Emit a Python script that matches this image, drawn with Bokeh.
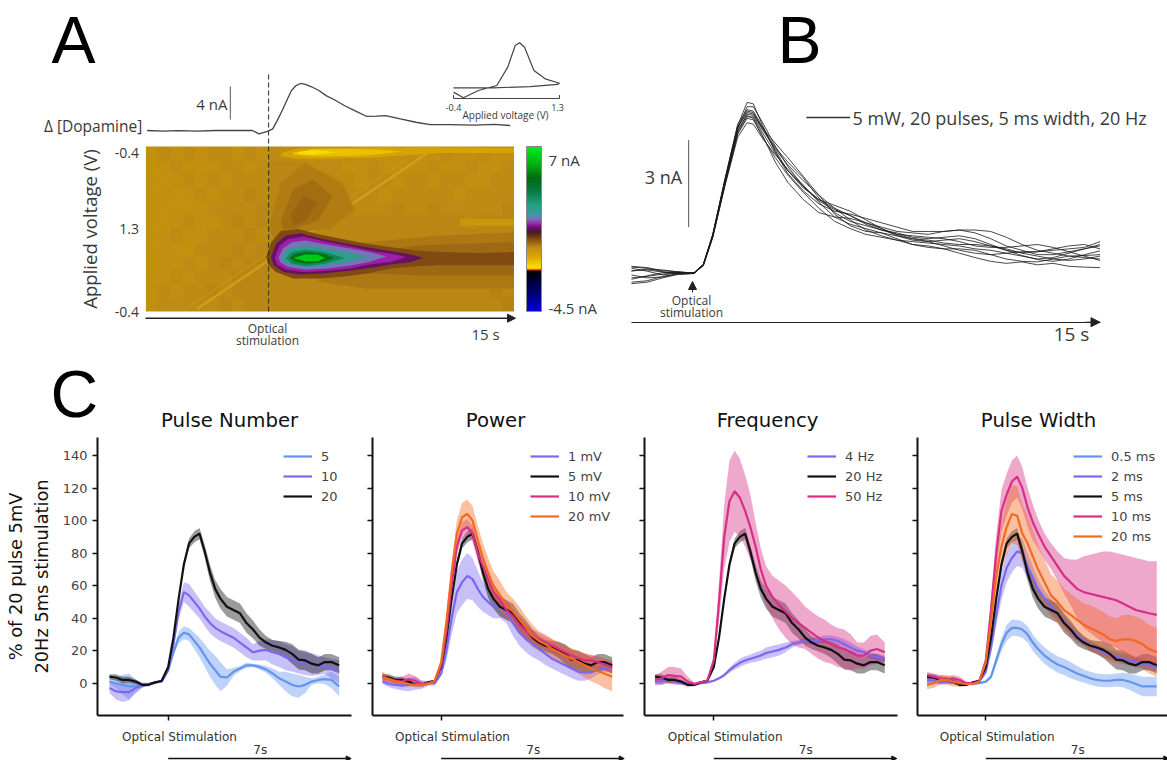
import numpy as np
from bokeh.plotting import figure
from bokeh.layouts import row, column
from bokeh.models import (Range1d, Label, Arrow, NormalHead, Legend, LegendItem, FixedTicker,
                          LinearColorMapper, ColorBar, ColumnDataSource)
from bokeh.embed import file_html
from bokeh.resources import INLINE

# ---------- panel A data ----------
DA_T = [0.05,0.7,1.33,2.1,2.83,3.6,4.34,4.61,4.95,5.17,5.35,5.55,5.75,5.92,6.1,6.3,6.5,6.75,7.05,7.36,7.7,8.1,8.55,9.0,9.4,9.77,10.37,11.0,11.58,12.4,13.39,14.2,14.85]
DA_NA = [0,-0.08,-0.02,-0.08,0,0.02,0,-0.4,-0.1,0.2,1.2,2.4,3.7,4.8,5.4,5.7,5.6,5.3,4.85,4.2,3.7,3.0,2.35,1.7,1.75,1.8,1.4,1.0,0.7,0.72,0.66,0.75,0.6]
CV_V = [-0.4,-0.24,0.0,0.295,0.47,0.59,0.66,0.74,0.89,1.07,1.3,1.27,0.83,0.235,-0.4]
CV_I = [4.65,3.96,4.85,5.45,7.68,10.3,10.63,10.1,7.27,6.26,5.73,5.58,5.33,5.17,5.17]
HEAT = [
 [-.1,-.05,-.1,-.05,-.1,-.05,-.05,-.1,-.05,-.1,-.05,-.05,-.05,-.1,-.1,-.1,-.05,-.1,-.1,-.15,-.1,-.05,-.1,-.1,-.05,-.1,-.1,-.05,-.1,-.1],
 [-.15,-.1,-.05,-.1,-.15,-.1,-.05,-.05,-.1,-.05,0,.02,.02,-.02,-.05,-.05,-.1,-.1,-.05,-.1,-.15,-.1,-.1,-.05,-.1,-.1,-.05,-.1,-.1,-.05],
 [-.1,-.15,-.1,-.05,-.1,-.05,-.1,-.05,-.05,-.02,.02,.02,.02,.02,0,-.05,-.05,-.1,-.05,-.05,-.1,-.05,-.05,-.1,-.05,-.05,-.1,-.1,-.05,-.05],
 [-.1,-.1,-.15,-.1,-.05,-.1,-.05,-.05,0,-.02,.02,.02,.02,0,0,-.02,-.05,-.05,-.05,-.1,-.05,-.02,-.05,-.05,-.05,-.1,-.05,-.05,-.05,-.05],
 [-.15,-.1,-.1,-.15,-.1,-.05,-.05,-.05,-.05,0,.02,.02,.02,.02,0,0,0,-.02,-.05,-.05,0,-.05,-.05,0,-.02,-.05,-.05,-.02,-.05,0],
 [-.1,-.15,-.1,-.05,-.1,-.1,-.05,0,-.05,0,.02,.02,.02,.02,.02,0,0,0,0,.02,0,0,.02,0,0,0,-.02,0,0,.02],
 [-.15,-.1,-.05,-.1,-.1,-.05,-.05,-.05,0,-.02,0,.02,.02,.02,.02,.02,0,.02,0,0,.02,.02,0,0,.02,0,.02,0,.02,0],
 [-.1,-.1,-.1,-.15,-.05,-.05,-.05,0,-.05,0,0,.02,.02,.02,.02,.02,.02,.02,.02,0,.02,.02,.02,.02,0,.02,.02,.02,.02,.05],
 [-.15,-.1,-.1,-.05,-.1,-.05,0,-.05,0,0,0,.02,.02,.02,.02,.02,.02,.02,0,.02,.02,.02,.02,.02,.02,.02,.02,.05,.05,.05],
 [-.1,-.1,-.05,-.1,-.05,-.05,-.05,0,0,0,0,0,.02,.02,.02,.02,.02,.02,.02,.02,.02,.02,0,.02,.02,.02,.02,.02,.02,.05],
 [-.1,-.05,-.1,-.05,-.05,0,-.05,0,0,0,0,0,.02,0,.02,.02,0,.02,.02,0,.02,0,.02,.02,0,.02,.02,.02,.05,.02],
 [-.1,-.05,-.05,-.05,-.05,-.05,0,-.02,0,0,0,0,0,0,0,0,.02,0,0,0,.02,0,0,0,0,0,0,.02,.02,.05],
]
CONTOUR_V = [.16,.28,-.32,.12,.22,.32,-.55,-1,-1.4, .55,1.3,1.6,2.0,2.7,3.5,4.9,6.2]
CONTOUR_T = [
 [7,9,12,15,15,12,9,7],
 [8,11,15,15,11,8],
 [12.8,15,15,12.8],
 [5,5.5,6.5,8,8.5,7.5,6,5.2],
 [5.5,6,6.8,7.6,7,6,5.6],
 [5.9,6.4,7,6.5,6],
 [5.5,6.2,9,12,15,15,12,9,6.2,5.5],
 [6,7,9,10.5,9,7,6],
 [6.2,6.8,7.8,6.8,6.2],
 [4.9,5.1,5.5,6.2,7,8,9,10,11,12,13.5,15,15,13.5,12,11,10,9,8,7,6,5.3,5],
 [5.1,5.3,5.7,6.3,7.2,8.2,9.2,10,10.8,11.3,10.8,10,9.2,8.2,7.2,6.3,5.6,5.2],
 [5.25,5.45,5.8,6.4,7.3,8.3,9.1,10,10.6,10,9.1,8.3,7.3,6.4,5.7,5.35],
 [5.4,5.6,5.95,6.5,7.4,8.4,9.1,9.8,9.1,8.4,7.4,6.5,5.8,5.5],
 [5.55,5.75,6.1,6.6,7.5,8.3,9,8.3,7.5,6.6,6,5.65],
 [5.7,5.95,6.5,7.3,8.1,7.3,6.5,5.95],
 [5.85,6.1,6.6,7.2,7.7,7.2,6.6,6.1],
 [6,6.5,7,7.3,7,6.5],
]
CONTOUR_F = [
 [.36,.42,.46,.48,.14,.14,.14,.18],
 [.33,.40,.42,.22,.22,.24],
 [.56,.56,.52,.52],
 [.5,.78,.9,.78,.62,.5,.48,.45],
 [.55,.74,.8,.7,.55,.5,.5],
 [.58,.7,.66,.55,.52],
 [.96,.99,.995,.995,.99,.96,.96,.93,.925,.94],
 [.965,.985,.985,.97,.945,.94,.95],
 [.965,.98,.965,.95,.955],
 [.33,.42,.49,.50,.47,.44,.41,.39,.37,.36,.355,.36,.28,.28,.28,.275,.26,.23,.21,.20,.20,.24,.28],
 [.33,.41,.46,.475,.44,.41,.385,.365,.345,.325,.30,.285,.265,.245,.23,.225,.24,.28],
 [.325,.40,.44,.455,.425,.395,.37,.35,.33,.30,.285,.26,.245,.24,.255,.285],
 [.325,.385,.42,.43,.405,.38,.36,.335,.30,.28,.26,.255,.27,.295],
 [.325,.37,.39,.395,.375,.355,.335,.305,.285,.27,.28,.30],
 [.325,.36,.375,.36,.325,.29,.275,.29],
 [.325,.35,.36,.35,.325,.30,.29,.30],
 [.325,.345,.345,.325,.305,.305],
]
STREAK_T = [2.08,11.73]
STREAK_F = [.016,.986]

# ---------- panel B data (nA) ----------
B_T = [0,.5,1,1.5,2,2.3,2.6,3,3.4,3.7,3.9,4.2,4.6,5,5.5,6,6.5,7,7.5,8,8.5,9,9.5,10,10.5,11,11.5,12,12.5,13,13.5,14,14.5,15]
B1 = [.25,.2,.1,.05,0,.3,1.3,3.2,5,5.75,5.75,5.2,4.4,3.7,3,2.5,2.2,2,1.75,1.6,1.45,1.4,1.35,1.45,1.5,1.4,1.2,.95,.8,.65,.65,.75,.85,1]
B2 = [-.3,-.25,-.1,0,.02,.3,1.25,3.1,4.8,5.35,5.3,4.7,4,3.4,2.8,2.25,1.8,1.55,1.35,1.25,1.15,1,.95,.85,.7,.55,.42,.35,.4,.3,.35,.25,.22,.2]
B3 = [.1,.12,.05,.02,.03,.32,1.35,3.3,5.1,5.9,5.85,5.1,4.2,3.45,2.85,2.4,2.15,2.05,1.9,1.75,1.6,1.45,1.45,1.45,1.5,1.5,1.45,1.25,1,.8,.7,.6,.55,.5]
B4 = [-.15,-.1,-.02,.04,.01,.28,1.28,3.15,4.9,5.5,5.45,4.95,4.3,3.75,3.2,2.7,2.25,1.85,1.5,1.3,1.15,1.1,1.05,1,.95,.85,.8,.7,.6,.5,.55,.7,.85,.95]
B5 = [.18,.08,-.05,.02,.02,.3,1.3,3.25,5.05,5.6,5.55,5,4.5,4,3.35,2.7,2.05,1.65,1.45,1.4,1.3,1.2,1.15,1.05,1,1,.95,.85,.7,.6,.5,.45,.5,.6]
B6 = [-.05,-.15,-.12,-.03,0,.29,1.32,3.2,4.95,5.45,5.35,4.75,3.85,3.15,2.55,2.1,1.95,1.9,1.75,1.55,1.35,1.2,1.1,.95,.8,.7,.65,.7,.75,.75,.8,.85,.9,1.1]
B7 = [.08,.15,.12,.06,.01,.31,1.33,3.28,5.15,5.65,5.6,5.05,4.25,3.55,2.95,2.55,2.35,2.15,1.85,1.55,1.3,1.15,1.1,1.15,1.2,1.1,.95,.8,.72,.75,.85,.95,1,.85]
B8 = [-.2,-.08,.03,.05,.02,.27,1.24,3.05,4.7,5.2,5.15,4.65,4.1,3.6,3.05,2.45,1.95,1.7,1.55,1.4,1.2,1,.9,.85,.85,.8,.65,.5,.42,.4,.5,.6,.62,.65]
B9 = [.22,.18,.06,-.02,.0,.3,1.31,3.22,5.02,5.55,5.5,5,4.35,3.85,3.3,2.6,2.1,1.8,1.65,1.5,1.4,1.25,1.2,1.25,1.3,1.2,1,.8,.62,.48,.42,.5,.65,.78]
B10 = [-.35,-.3,-.15,-.02,.01,.28,1.27,3.12,4.85,5.4,5.4,4.85,4.15,3.55,3,2.55,2.25,2,1.7,1.5,1.35,1.3,1.25,1.2,1.1,.95,.9,.9,.95,1,.9,.75,.6,.45]

# ---------- panel C data (%) ----------
T = [-2.25,-2,-1.75,-1.5,-1.25,-1,-.75,-.5,-.25,0,.2,.4,.6,.8,1,1.2,1.4,1.6,1.8,2,2.25,2.5,2.75,3,3.25,3.5,3.75,4,4.25,4.5,4.75,5,5.25,5.5,5.75,6,6.25,6.55]
BLACK = [4,3.5,2,2,1,-1,-1,.5,1.5,10,28,52,73,86,90,92,81,68,58,52,47,45,43,37,33,28,25,23,22,20.5,18,14.5,14,12,11,13,13,11]
BLACK_E = [1.5,2,2,2,1.5,1,.8,.5,.5,1,1.5,2,2.5,3,3.5,3.5,4,5,5.5,6,6,6,6,6,5.5,5,4,3.5,4,5,6,6,6,6,5,5,5,5]
P10 = [-3,-5,-5.5,-5.5,-3,-1.5,-.5,.5,1,8,24,44,56,54,50,46,41,37,34,32,30,28,25,22,19,20,20.5,19,18,16,15,13,12,11.5,11,11,9,7]
P10_E = [3,5,6,5,3,1.5,.8,.5,.5,1,3,4.5,6,7,6.5,6,6,6.5,6,6,6,6,6,6,5,6,6.5,7.5,8,8,8,7,7,7,6,5,6,7]
P5 = [1,0,-1,-2,-2,-1,-.5,.5,1,8,19,28,31,30,26,22,17,12,8,4,3.5,7,9,11,11,10,8.5,6,3,1,-1,-2,-1,1,2,2.5,2,-2]
P5_E = [2,3,6,8,4,1.5,.8,.5,.5,1,2,3.5,4,4,5,6,7,8,9,9,5,2.5,1.5,1.5,1,1.5,2,3,4,6,7,7,5,2,2,3,5,6]
M1 = [1,-.5,-1,-1.5,-1,0,-1,0,0,6,20,40,56,62,66,64,58,53,50,47,47,44,37,31,27,24,21,18,15,13,11,9,7,6.5,7,8,9,10]
M1_E = [1.5,2,2.5,3,4,4,2.5,1.5,1.5,1.5,6,10,13,14,14,13,11,9,8,7,7,7,8,8,8,8,7,7,6,6,6,6,5.5,5,4,2.5,2,3]
M10 = [4,2.5,1.5,1,2.5,1.5,-.5,0,1,11,32,60,84,94,96,92,80,72,64,56,51,45,41,36,32,29,27,25,23,21,19,17,15.5,14,14,13,11.5,10]
M10_E = [3,2,2,3,3.5,3,2,1,.8,1,3,4,5,5,5,5,5,5,5,5,4.5,4.5,4.5,4.5,4.5,4,4,4,4,4,4,4,4,4,3.5,3.5,3.5,4]
M20 = [4,2.5,1,.5,-.5,-1,-1,-.5,1.5,13,38,68,92,102,104,100,88,77,68,60,54,48,44,39,34,29,26,24,21,19,17,15,13,11,9,7.5,6,4]
M20_E = [2.5,2,1.5,1.5,1.5,1.5,1,.8,.8,1.5,4,6,8,9,9,9,9,9,9,9,9,8,8,8,7,7,6,6,6,6,6,6.5,7,7.5,8,8,9,9]
F4 = [1,1,2,1,0,-.5,-1,0,.5,1.5,3,5,8,10.5,12.5,14,15,16,17,18.5,19.5,20.5,22,24,25,26,26,26.5,27,27,26,24,22,20,19,17,16,15]
F4_E = [2,2,1.5,1,.8,.5,.5,.5,.5,.5,.8,1,1.5,2,2.5,2.5,2.5,3,3,3.5,3.5,3.5,3,2,1.5,1.5,2,2,2.5,2.5,2.5,3,3,2.5,2,2,2,2]
F50 = [2,3,5,4.5,4,1,-.5,.5,1.5,14,50,90,112,118,114,106,96,84,70,60,53,48,44,40,37,34,31,28,26,24,22,21,19,17,17,20,21,19]
F50_E = [3,4,5,5.5,5,3,1,.8,.8,3,12,20,25,25,24,22,20,15,13,12,13,15,16,16,15,13,13,13,13,12,12,12,11,8,8,9,9,6]
W05 = [1,1.5,1,2,1,0,0,-.5,0,1,4,14,24,31,34,34,33,30,25,21,17,14,11.5,10,8,6,4.5,3,2,1.5,1.5,2,2,1,-.5,-2,-2,-2]
W05_E = [2,2,2,1.5,1.5,1,.8,.8,.5,.5,1.5,3,4,5,5,5,5,5,5,5,5,5,5,5,5,4.5,4,4,4,4,4,4,4.5,5,5.5,6,6,6]
W2 = [2,2,1,1,1,0,-.5,0,1,7,22,42,60,71,77,81,80,72,65,58,52,47,43,38,33,29,26,23,21,19,17.5,16,15,14,13,12,11,10]
W2_E = [1.5,1.5,1.5,1.5,1.5,1,.8,.5,.5,1,4,7,9,9,9,9,9,8,7,6,5,5,4.5,4,4,3.5,3,3,3,3,3,3,3,3,3,3,3,3]
W10 = [5,4,3,2,3,2,0,0,1,14,45,80,106,116,124,127,120,108,99,92,84,78,72,66,62,58,56,55,54,53,52,51,49,47,45,44,43,42]
W10_E = [2,2,2,2,2,2,1,.8,.8,2,8,11,13,13,13,13,13,12,11,9,8,8,9,11,14,18,22,24,26,28,29,29,30,31,32,32,32,33]
W20 = [-1,0,2,2,1,0,-.5,-.5,1,13,38,66,84,96,104,103,92,86,78,70,62,54,50,45,42,39,36,34,32,30,27,26,27,27,26,24,21,19]
W20_E = [2.5,3,3,3,3,2,1,.8,.8,2,6,10,14,17,18,18,18,17,16,15,14,13,13,13,13,13,13,14,14,14,14,14,15,15,15,15,15,15]

BLUE, PURPLE, KEY, PINK, ORANGE = "#6495ED", "#7B68EE", "#111111", "#D62F85", "#F26A21"
PANELS = [
 ("Pulse Number", [("5",P5,P5_E,BLUE),("10",P10,P10_E,PURPLE),("20",BLACK,BLACK_E,KEY)]),
 ("Power", [("1 mV",M1,M1_E,PURPLE),("5 mV",BLACK,BLACK_E,KEY),("10 mV",M10,M10_E,PINK),("20 mV",M20,M20_E,ORANGE)]),
 ("Frequency", [("4 Hz",F4,F4_E,PURPLE),("20 Hz",BLACK,BLACK_E,KEY),("50 Hz",F50,F50_E,PINK)]),
 ("Pulse Width", [("0.5 ms",W05,W05_E,BLUE),("2 ms",W2,W2_E,PURPLE),("5 ms",BLACK,BLACK_E,KEY),("10 ms",W10,W10_E,PINK),("20 ms",W20,W20_E,ORANGE)]),
]

OS = "Open Sans"; DV = "DejaVu Sans"; LS = "Liberation Sans"; INK = "#3a3a3a"

def sheet(w, h, xr, yr):
    p = figure(width=w, height=h, output_backend="svg", toolbar_location=None, x_range=xr, y_range=yr,
               min_border_left=0, min_border_right=0, min_border_top=0, min_border_bottom=0)
    p.grid.visible = False
    p.outline_line_color = None
    p.background_fill_color = None
    p.border_fill_color = None
    return p

def lab(p, org, px, py, text, size, font=OS, align="left", base="middle", color=INK):
    p.add_layout(Label(x=px-org[0], y=py-org[1], x_units="canvas", y_units="canvas", text=text, text_font=font,
                       text_font_size=f"{size}px", text_align=align, text_baseline=base, text_color=color, level="overlay"))

def arrow(p, org, x0, y0, x1, y1, size=8, color="#222222", width=1.5):
    p.add_layout(Arrow(end=NormalHead(size=size, fill_color=color, line_color=color), x_start=x0-org[0], y_start=y0-org[1],
                       x_end=x1-org[0], y_end=y1-org[1], start_units="canvas", end_units="canvas",
                       line_color=color, line_width=width, level="overlay"))

anch = [(0,"#0000e0"),(.06,"#0000a0"),(.17,"#000040"),(.247,"#000000"),(.25,"#e00000"),(.257,"#ffe600"),(.33,"#dca800"),
        (.39,"#bd8a14"),(.44,"#7f4a10"),(.48,"#4a1a20"),(.51,"#6b0f70"),(.53,"#a020a8"),(.56,"#7a70b8"),(.59,"#3f9aa0"),(.65,"#20a080"),
        (.73,"#0a7a40"),(.81,"#006a10"),(.89,"#00b010"),(1,"#00ee20")]
fs = [a_[0] for a_ in anch]
rgb = np.array([[int(a_[1][i:i+2],16) for i in (1,3,5)] for a_ in anch])
palette = ["#%02x%02x%02x" % tuple(int(round(np.interp(f,fs,rgb[:,k]))) for k in range(3)) for f in np.linspace(0,1,256)]
mapper = LinearColorMapper(palette=palette, low=-4.5, high=7)

TOP = 349

# ---------- A ----------
PX_S = 368.1/15; PX_F = 165.0; PX_NA = 8.25; HX = 145.4; HB = 311
OA = (0,0)
a = sheet(610, TOP, Range1d(-HX/PX_S, (610-HX)/PX_S), Range1d((HB-TOP)/PX_F, HB/PX_F))
a.xaxis.visible = False
a.extra_y_ranges = {"na": Range1d((130-TOP)/PX_NA, 130/PX_NA)}
VPX = 1.7/106
a.extra_x_ranges = {"cv": Range1d(-0.4-453*VPX, -0.4+(610-453)*VPX)}
a.image(image=[np.array(HEAT[::-1], dtype=float)], x=0, y=0, dw=15, dh=1, color_mapper=mapper)
a.line(STREAK_T, STREAK_F, line_color="#dcae22", line_width=2.5, line_alpha=.55)
a.line([t-.45 for t in STREAK_T], STREAK_F, line_color="#dcae22", line_width=1.5, line_alpha=.25)
src = ColumnDataSource(dict(xs=CONTOUR_T, ys=CONTOUR_F, v=CONTOUR_V))
a.patches("xs","ys",source=src, fill_color={"field":"v","transform":mapper}, line_color=None)
a.line([5,5],[0,(311-71)/PX_F], line_color="#33281a", line_width=1, line_dash="5 3")
a.line(DA_T, DA_NA, y_range_name="na", line_color="#444444", line_width=1.3)
a.line([3.44,3.44],[1.33,5.33], y_range_name="na", line_color="#555555", line_width=1)
a.line(CV_V, CV_I, x_range_name="cv", y_range_name="na", line_color="#444444", line_width=1.2)
a.line([-0.4,-0.4,1.3,1.3],[4.3,3.88,3.88,4.3], x_range_name="cv", y_range_name="na", line_color="#444444", line_width=1)
lab(a, OA, 227, 103, "4 nA", 15, align="right")
lab(a, OA, 141.7, 125, "Δ [Dopamine]", 15.5, align="right")
lab(a, OA, 51, 39, "A", 66, font=LS, color="#000000")
lab(a, OA, 453, 107, "-0.4", 9, align="center")
lab(a, OA, 505, 114, "Applied voltage (V)", 10, align="center")
lab(a, OA, 557, 107, "1.3", 9, align="center")
ya = a.yaxis[0]
ya.fixed_location = 0; ya.bounds = (0,1)
ya.ticker = FixedTicker(ticks=[0,.5,.96])
ya.major_label_overrides = {0:"-0.4",.5:"1.3",.96:"-0.4"}
ya.major_label_text_font = OS; ya.major_label_text_font_size = "14px"; ya.major_label_text_color = INK
ya.major_tick_line_color = None; ya.minor_tick_line_color = None; ya.axis_line_color = None
ya.major_label_standoff = 1
ya.axis_label = "Applied voltage (V)"; ya.axis_label_text_font = OS; ya.axis_label_text_font_size = "18.5px"
ya.axis_label_text_font_style = "normal"; ya.axis_label_text_color = INK; ya.axis_label_standoff = 9
arrow(a, OA, 145, 317.7, 515, 317.7)
lab(a, OA, 267, 328, "Optical", 12, align="center")
lab(a, OA, 267, 340, "stimulation", 12, align="center")
lab(a, OA, 485, 333, "15 s", 15, align="center")
cb = ColorBar(color_mapper=mapper, width=15, height=165, location=(526,TOP-311), margin=0, padding=0,
              ticker=FixedTicker(ticks=[]), major_tick_line_color=None, minor_tick_line_color=None, bar_line_color="#888888")
a.add_layout(cb)
lab(a, OA, 548, 159, "7 nA", 15)
lab(a, OA, 548, 307, "-4.5 nA", 15)

# ---------- B ----------
BS = 468.5/15; BX = 631; B0 = 273; BNA = 29
OB = (610,0)
b = sheet(557, TOP, Range1d((610-BX)/BS, (1167-BX)/BS), Range1d((B0-TOP)/BNA, B0/BNA))
for tr in (B1,B2,B3,B4,B5,B6,B7,B8,B9,B10):
    b.line(B_T, tr, line_color="#1a1a1a", line_width=1, line_alpha=.8)
b.yaxis.visible = False
xb = b.xaxis[0]
xb.fixed_location = (B0-321.7)/BNA; xb.bounds = (0,15)
xb.ticker = FixedTicker(ticks=[]); xb.axis_line_color = "#222222"; xb.axis_line_width = 1
xb.major_tick_line_color = None; xb.minor_tick_line_color = None
arrow(b, OB, 1085, 321.7, 1099.5, 321.7, size=9, width=1)
arrow(b, OB, 692, 292, 692, 281, size=8, width=1)
b.line([1.83,1.83],[1.6,4.6], line_color="#555555", line_width=1)
lab(b, OB, 663, 176, "3 nA", 18, align="center")
b.line([5.6,7.0],[5.38,5.38], line_color="#333333", line_width=1.5)
lab(b, OB, 852, 117, "5 mW, 20 pulses, 5 ms width, 20 Hz", 18)
lab(b, OB, 691, 299.5, "Optical", 12, align="center")
lab(b, OB, 691, 312, "stimulation", 12, align="center")
lab(b, OB, 1071, 333, "15 s", 19, align="center")
lab(b, OB, 777, 39, "B", 66, font=LS, color="#000000")

# ---------- C ----------
FR_L = [97,372,644,917]; FR_W = [254,251,253,250]; TICK = [167.7,440.7,713.3,985.3]
FIG_L = [0,365,637,910]; FIG_W = [365,272,273,257]; LEG_X = [283,530,807,1073]; TITLE_X = [229,495,767,1038]
PXS = 26.1; PXV = 227.7/140; Y0 = 682.7
figs = []
for i,(title,series) in enumerate(PANELS):
    org = (FIG_L[i],TOP)
    p = sheet(FIG_W[i], 760-TOP, Range1d((FIG_L[i]-TICK[i])/PXS, (FIG_L[i]+FIG_W[i]-TICK[i])/PXS),
              Range1d((Y0-760)/PXV, (Y0-TOP)/PXV))
    items = []
    for name,m,e,c in series:
        m_, e_ = np.array(m,float), np.array(e,float)
        p.varea(T, m_-e_, m_+e_, fill_color=c, fill_alpha=.42)
    for name,m,e,c in series:
        r = p.line(T, m, line_color=c, line_width=2.2)
        items.append(LegendItem(label=name, renderers=[r]))
    lab(p, org, TITLE_X[i], 420, title, 19.7, font=DV, align="center", color="#111111")
    xa = p.xaxis[0]; ya = p.yaxis[0]
    x_l = (FR_L[i]-TICK[i])/PXS; x_r = (FR_L[i]+FR_W[i]-TICK[i])/PXS
    xa.fixed_location = (Y0-715)/PXV; xa.bounds = (x_l,x_r)
    ya.fixed_location = x_l; ya.bounds = ((Y0-715)/PXV, (Y0-437)/PXV)
    xa.ticker = FixedTicker(ticks=[0]); xa.major_label_overrides = {0:""}
    xa.major_tick_out = 5; xa.major_tick_in = 0; xa.axis_line_width = 2; xa.major_tick_line_width = 1.5
    xa.axis_line_color = "#111111"; xa.major_tick_line_color = "#111111"; xa.minor_tick_line_color = None
    ticks = [0,20,40,60,80,100,120,140]
    ya.ticker = FixedTicker(ticks=ticks)
    ya.major_tick_out = 5; ya.major_tick_in = 0; ya.axis_line_width = 2; ya.major_tick_line_width = 1.5
    ya.axis_line_color = "#111111"; ya.major_tick_line_color = "#111111"; ya.minor_tick_line_color = None
    if i == 0:
        ya.major_label_text_font = DV; ya.major_label_text_font_size = "13px"; ya.major_label_text_color = "#444444"
        ya.major_label_standoff = 5
        ya.axis_label = "% of 20 pulse 5mV\n20Hz 5ms stimulation"
        ya.axis_label_text_font = DV; ya.axis_label_text_font_size = "17.8px"; ya.axis_label_text_font_style = "normal"
        ya.axis_label_text_color = "#111111"; ya.axis_label_standoff = 8
        lab(p, org, 50, 393, "C", 66, font=LS, color="#000000")
    else:
        ya.major_label_overrides = {t:"" for t in ticks}
    lab(p, org, TICK[i]+11.3, 736, "Optical Stimulation", 12, font=DV, align="center", color="#333333")
    lab(p, org, TICK[i]+92, 749, "7s", 12, font=DV, align="center", color="#333333")
    arrow(p, org, TICK[i], 758, TICK[i]+183, 758, size=5, color="#111111")
    leg = Legend(items=items, location=(LEG_X[i]-FIG_L[i], 760-(446+20*len(items))), border_line_color=None, background_fill_alpha=0,
                 glyph_width=29, glyph_height=20, label_height=20, label_standoff=9, spacing=0, padding=0, margin=0,
                 label_text_font=DV, label_text_font_size="13px", label_text_color="#444444")
    p.add_layout(leg)
    figs.append(p)

page = column(row(a, b), row(*figs))
open("out.html","w").write(file_html(page, INLINE))
